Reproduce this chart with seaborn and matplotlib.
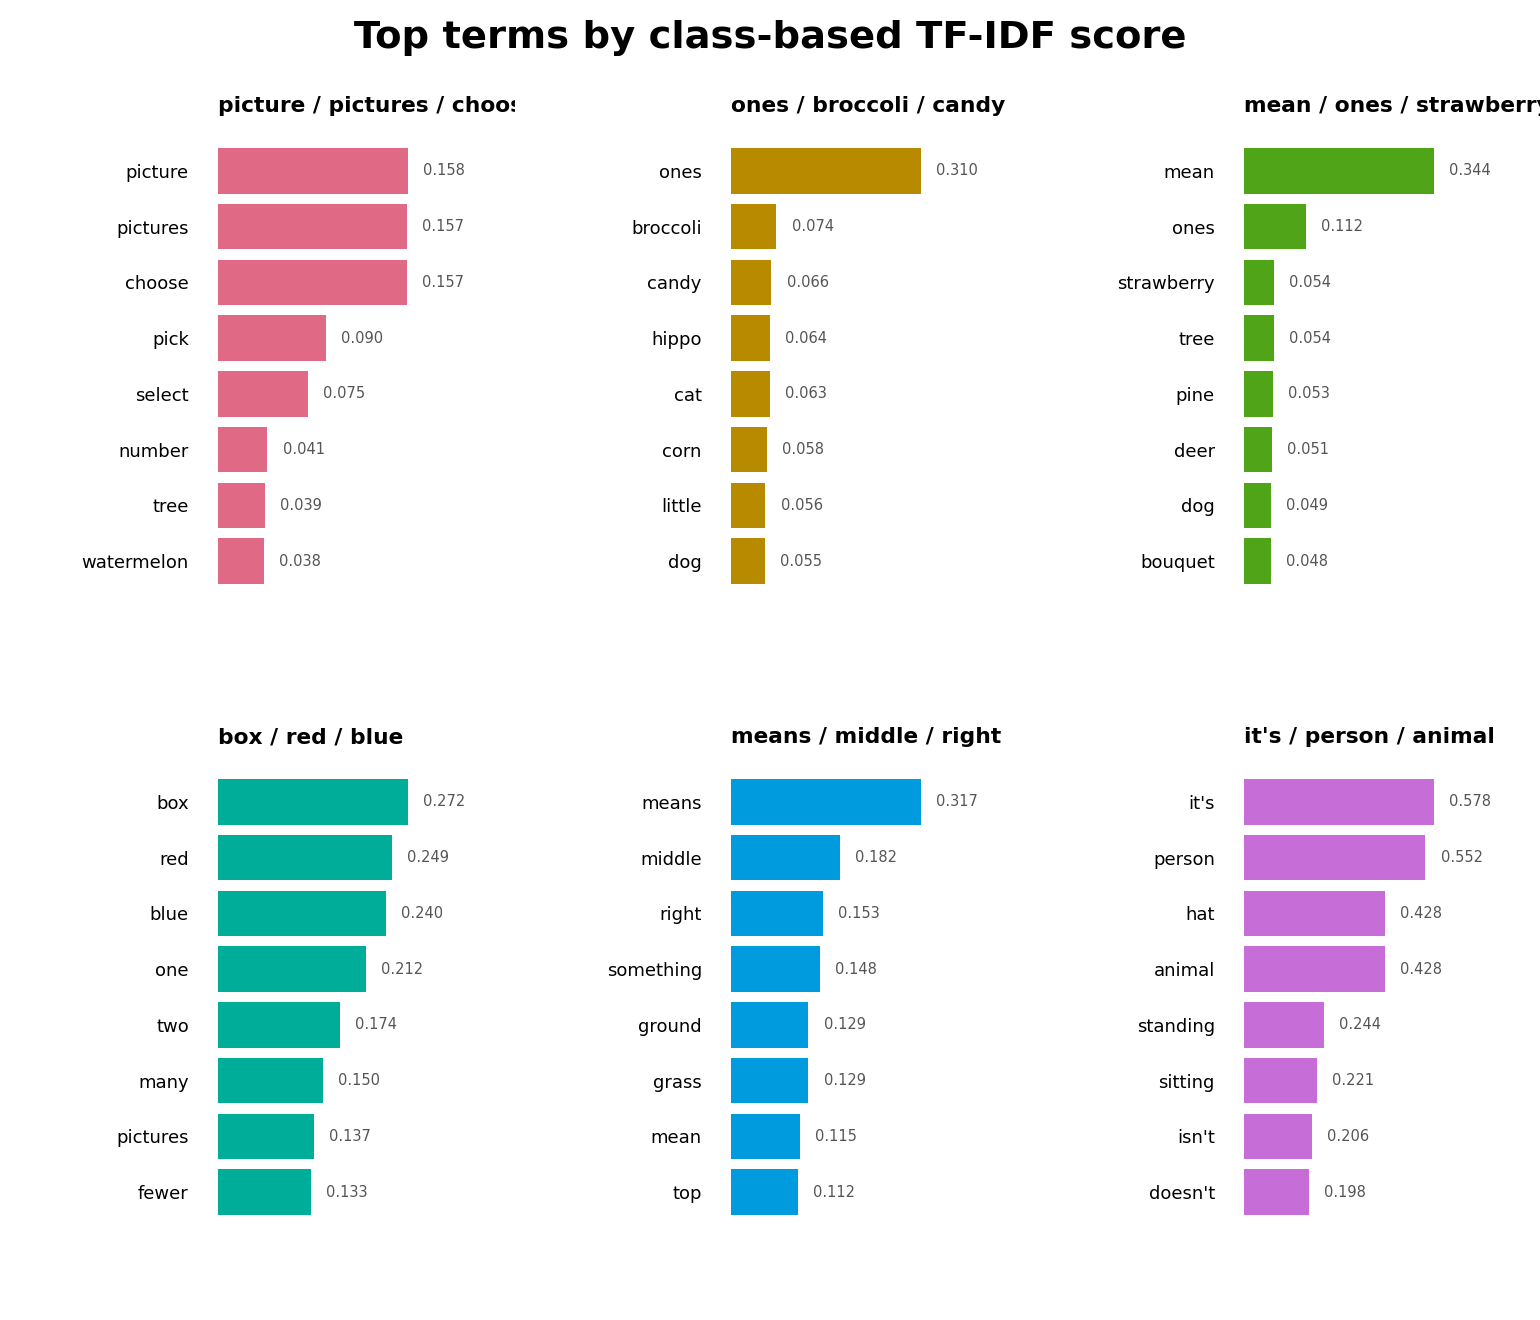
import matplotlib
matplotlib.use("Agg")
import matplotlib.pyplot as plt
import seaborn as sns
from matplotlib.transforms import Bbox, TransformedBbox

sns.set_theme(style="white")
plt.rcParams['font.family'] = ['DejaVu Sans']
plt.rcParams['text.color'] = 'black'

# ── data ──────────────────────────────────────────────────────
titles = [
    "picture / pictures / choose",
    "ones / broccoli / candy",
    "mean / ones / strawberry",
    "box / red / blue",
    "means / middle / right",
    "it's / person / animal",
]
terms_1 = ["picture", "pictures", "choose", "pick", "select", "number", "tree", "watermelon"]
scores_1 = [0.158, 0.157, 0.157, 0.090, 0.075, 0.041, 0.039, 0.038]
terms_2 = ["ones", "broccoli", "candy", "hippo", "cat", "corn", "little", "dog"]
scores_2 = [0.310, 0.074, 0.066, 0.064, 0.063, 0.058, 0.056, 0.055]
terms_3 = ["mean", "ones", "strawberry", "tree", "pine", "deer", "dog", "bouquet"]
scores_3 = [0.344, 0.112, 0.054, 0.054, 0.053, 0.051, 0.049, 0.048]
terms_4 = ["box", "red", "blue", "one", "two", "many", "pictures", "fewer"]
scores_4 = [0.272, 0.249, 0.240, 0.212, 0.174, 0.150, 0.137, 0.133]
terms_5 = ["means", "middle", "right", "something", "ground", "grass", "mean", "top"]
scores_5 = [0.317, 0.182, 0.153, 0.148, 0.129, 0.129, 0.115, 0.112]
terms_6 = ["it's", "person", "hat", "animal", "standing", "sitting", "isn't", "doesn't"]
scores_6 = [0.578, 0.552, 0.428, 0.428, 0.244, 0.221, 0.206, 0.198]
colors = ["#E06A86", "#B88A00", "#50A418", "#00AD98", "#009ADE", "#C76DD8"]

all_terms = [terms_1, terms_2, terms_3, terms_4, terms_5, terms_6]
all_scores = [scores_1, scores_2, scores_3, scores_4, scores_5, scores_6]

W, H = 1540, 1320
fig = plt.figure(figsize=(W / 100, H / 100), dpi=100)

for i in range(6):
    row, col = divmod(i, 3)
    left = 218 + col * 513
    top = 143 + row * 631
    ax = fig.add_axes([left / W, 1 - (top + 446) / H, 297 / W, 446 / H])
    sns.barplot(x=all_scores[i], y=all_terms[i], color=colors[i], width=0.82,
                saturation=1, linewidth=0, ax=ax, orient="h")
    vmax = max(all_scores[i])
    ax.set_xlim(0, vmax * 1.563)
    ax.set_ylim(7.5, -0.5)
    for j, v in enumerate(all_scores[i]):
        ax.text(v + vmax * 0.08, j, f"{v:.3f}", va="center", ha="left",
                fontsize=10.5, color="#555555")
    for s in ax.spines.values():
        s.set_visible(False)
    ax.set_xticks([])
    ax.set_xlabel("")
    ax.set_ylabel("")
    ax.tick_params(axis="y", length=0, pad=21, labelsize=13, labelcolor="black")
    t = ax.set_title(titles[i], loc="left", fontsize=15.7, fontweight="bold",
                     pad=22, color="black")
    # titles are cut at the panel's right edge, as in the reference
    t.set_clip_box(TransformedBbox(Bbox([[0, 0], [1, 1.3]]), ax.transAxes))
    t.set_clip_on(True)

fig.suptitle("Top terms by class-based TF-IDF score", fontsize=27.7,
             fontweight="bold", y=1 - 38 / H, va="center", color="black")

fig.savefig("out.png", dpi=100, facecolor="white")
